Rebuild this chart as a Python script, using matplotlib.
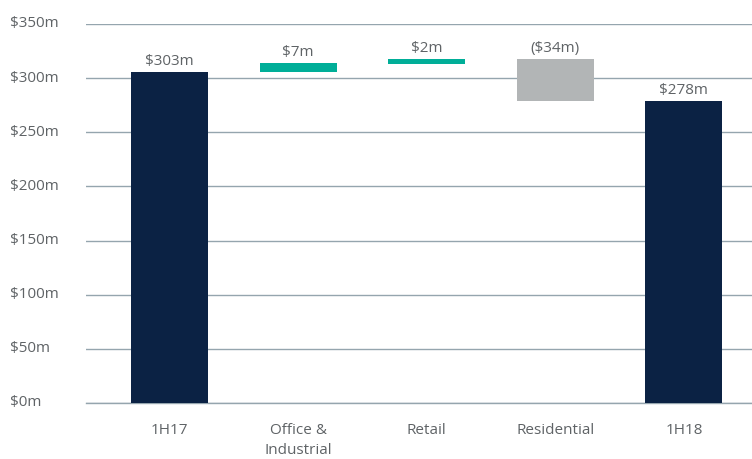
import matplotlib
matplotlib.use('Agg')
from matplotlib import pyplot as plt
from matplotlib.transforms import ScaledTranslation
import numpy as np

# Waterfall: 1H17 -> 1H18 ($m)
categories = ['1H17', 'Office &\nIndustrial', 'Retail', 'Residential', '1H18']
bar_bottom = [0, 305.5, 313, 279, 0]
bar_top = [305.5, 314, 317.5, 317.5, 279]
value_labels = ['$303m', '$7m', '$2m', '($34m)', '$278m']
bar_colors = ['#0b2244', '#00ae98', '#00ae98', '#b2b5b6', '#0b2244']
y_ticks = [0, 50, 100, 150, 200, 250, 300, 350]

plt.rcParams['font.family'] = ['Open Sans', 'DejaVu Sans']
text_color = '#5f6366'
grid_color = '#95a5ae'

fig = plt.figure(figsize=(7.52, 4.6), dpi=100)
ax = fig.add_axes([86 / 752, 1 - 404 / 460, 1 - 86 / 752, (404 - 25) / 460])

x = np.arange(len(categories))
heights = np.array(bar_top) - np.array(bar_bottom)
ax.bar(x, heights, bottom=bar_bottom, width=0.6, color=bar_colors, zorder=3)

for xi, top, lab in zip(x, bar_top, value_labels):
    ax.text(xi, top + 3.5, lab, ha='center', va='bottom', fontsize=11, color=text_color)

ax.set_xlim(-0.65, 4.53)
ax.set_ylim(0, 350)
ax.set_yticks(y_ticks)
ax.set_yticklabels(['${}m'.format(v) for v in y_ticks])
ax.set_xticks(x)
ax.set_xticklabels(categories, linespacing=1.4)

ax.grid(axis='y', color=grid_color, linewidth=1, zorder=0)
ax.axhline(0, color=grid_color, linewidth=1, zorder=2, clip_on=False)
for s in ax.spines.values():
    s.set_visible(False)
ax.tick_params(axis='both', length=0, labelsize=11, labelcolor=text_color)
ax.tick_params(axis='y', pad=54.5)
ax.tick_params(axis='x', pad=14)
shift_up = ScaledTranslation(0, 3 / 100, fig.dpi_scale_trans)
for t in ax.get_yticklabels():
    t.set_horizontalalignment('left')
    t.set_transform(t.get_transform() + shift_up)

fig.savefig('out.png', dpi=100)
